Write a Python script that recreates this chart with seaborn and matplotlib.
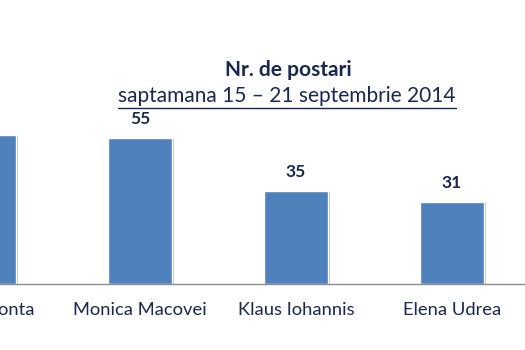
import matplotlib
matplotlib.use("Agg")
import matplotlib.pyplot as plt
import matplotlib.patheffects as pe
import matplotlib.transforms as mtrans
import seaborn as sns
import pandas as pd

categories = ["Victor Ponta", "Monica Macovei", "Klaus Iohannis", "Elena Udrea"]
values = [56, 55, 35, 31]
title = "Nr. de postari"
subtitle = "saptamana 15 \u2013 21 septembrie 2014"

sns.set_theme(style="white")
plt.rcParams['font.family'] = ['Lato', 'DejaVu Sans']
text_color = "#1a2850"

df = pd.DataFrame({"cat": categories, "val": values})

fig = plt.figure(figsize=(5.25, 3.5), dpi=100)
ax = fig.add_axes([0, 66/350, 1, 284/350])
sns.barplot(data=df, x="cat", y="val", color="#4F81BD", saturation=1, width=0.41, ax=ax)

for p in ax.patches:
    p.set_path_effects([pe.SimplePatchShadow(offset=(1.5, -0.5), shadow_rgbFace="#888888", alpha=0.5), pe.Normal()])

ax.bar_label(ax.containers[0], labels=[str(v) for v in values], padding=8,
             fontsize=12.5, fontweight="bold", color=text_color)

ax.set_xlim(0.1026, 0.1026 + 525/156)
ax.set_ylim(0, 107)
ax.set_xlabel("")
ax.set_ylabel("")
ax.set_yticks([])
ax.set_xticks([])
for s in ["top", "left", "right"]:
    ax.spines[s].set_visible(False)
ax.spines["bottom"].set_color("#8c8c8c")
ax.spines["bottom"].set_linewidth(1.0)

# category labels (drawn as text so the clipped first label stays visible)
trans = mtrans.blended_transform_factory(ax.transData, ax.transAxes)
for i, c in enumerate(categories):
    ax.annotate(c, xy=(i, 0), xycoords=trans, xytext=(0, -19), textcoords="offset points",
                ha="center", va="center", fontsize=13.2, color=text_color, annotation_clip=False)

fig.text(288/525, 1 - 70/350, title, ha="center", va="center", fontsize=15,
         fontweight="bold", color=text_color)
fig.text(287/525, 1 - 96/350, subtitle, ha="center", va="center", fontsize=15,
         color=text_color)
fig.add_artist(plt.Line2D([118/525, 456/525], [1 - 108/350, 1 - 108/350], color=text_color, lw=1.0))

fig.savefig("out.png", dpi=100)
